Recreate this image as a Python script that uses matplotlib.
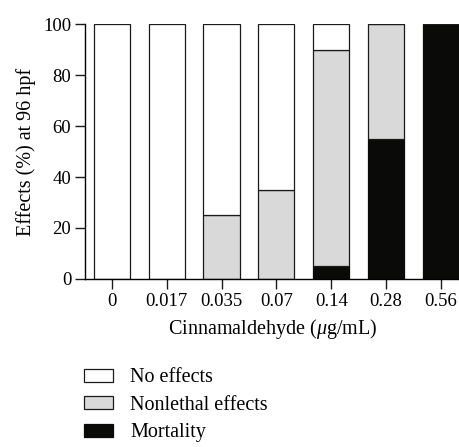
import matplotlib
matplotlib.use("Agg")
import matplotlib.pyplot as plt
import numpy as np

concentrations = ["0", "0.017", "0.035", "0.07", "0.14", "0.28", "0.56"]
no_effects = [100, 100, 75, 65, 10, 0, 0]
nonlethal = [0, 0, 25, 35, 85, 45, 0]
mortality = [0, 0, 0, 0, 5, 55, 100]

plt.rcParams["font.family"] = ["Liberation Serif", "DejaVu Serif"]
plt.rcParams["mathtext.fontset"] = "custom"
plt.rcParams["mathtext.it"] = "Liberation Serif:italic"
plt.rcParams["mathtext.rm"] = "Liberation Serif"

fig = plt.figure(figsize=(4.6, 4.47), dpi=100)
ax = fig.add_axes([0.185, 0.376, 0.815, 0.570])

x = np.arange(len(concentrations))
w = 0.66
mort = np.array(mortality)
nonl = np.array(nonlethal)
b1 = ax.bar(x, mortality, w, color="#0a0a08", edgecolor="#0a0a08", linewidth=0.9, label="Mortality")
b2 = ax.bar(x, nonlethal, w, bottom=mort, color="#d9d9d9", edgecolor="#1a1a1a", linewidth=0.9, label="Nonlethal effects")
b3 = ax.bar(x, no_effects, w, bottom=mort + nonl, color="white", edgecolor="#1a1a1a", linewidth=0.9, label="No effects")

ax.set_xlim(-0.49, 6.35)
ax.set_ylim(0, 100)
ax.set_yticks([0, 20, 40, 60, 80, 100])
ax.set_xticks(x)
ax.set_xticklabels(concentrations)
ax.tick_params(labelsize=13.5, length=7, width=1, color="#1a1a1a", pad=3)
ax.spines["top"].set_visible(False)
ax.spines["right"].set_visible(False)
ax.spines["left"].set_linewidth(1)
ax.spines["bottom"].set_linewidth(1)
ax.set_ylabel("Effects (%) at 96 hpf", fontsize=14.5, labelpad=5)
ax.set_xlabel("Cinnamaldehyde ($\\mathit{\\mu}$g/mL)", fontsize=14.5, labelpad=5)

fig.legend([b3, b2, b1], ["No effects", "Nonlethal effects", "Mortality"],
           loc="upper left", bbox_to_anchor=(0.165, 0.194), frameon=False,
           fontsize=14.5, handlelength=1.45, handleheight=0.6, handletextpad=0.85,
           labelspacing=0.42, borderaxespad=0)

fig.savefig("out.png", dpi=100)
